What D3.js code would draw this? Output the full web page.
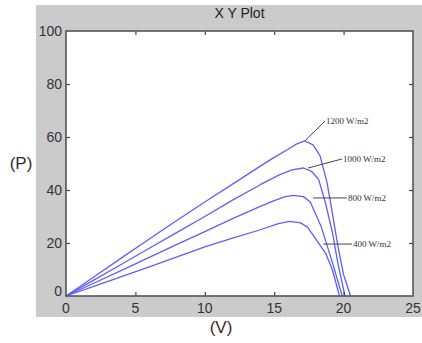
<html>
  <head>
    <meta charset="utf-8">
    <title>X Y Plot</title>
    <style>
      body { margin: 0; background: #fff; }
      svg { display: block; }
      .tick-label { font: 14px "Liberation Sans", Arial, sans-serif; fill: #333; }
      .title { font: 14px "Liberation Sans", Arial, sans-serif; fill: #222; text-anchor: middle; }
      .axis-name { font: 17px "Liberation Sans", Arial, sans-serif; fill: #3a2a2a; }
      .curve-label { font: 9px "Liberation Serif", serif; fill: #333; }
    </style>
  </head>
  <body>
    <svg id="chart" width="422" height="343"></svg>
    <script src="https://cdn.jsdelivr.net/npm/d3@7"></script>
    <script>
// P-V curves: voltage (V) and power (P) for each irradiance
var v1200 = [0, 2, 4, 6, 8, 10, 12, 13, 14, 15, 16, 16.6, 17.2, 17.8, 18.3, 18.8, 19.2, 19.6, 20.0, 20.5];
var p1200 = [0, 7.2, 14.4, 21.5, 28.6, 35.5, 42.2, 45.6, 49, 52.3, 55.4, 57.3, 58.5, 57, 53, 43, 31, 18.5, 8, 0];

var v1000 = [0, 2, 4, 6, 8, 10, 12, 14, 15.4, 16.3, 17.1, 17.7, 18.2, 18.7, 19.2, 19.6, 20.1];
var p1000 = [0, 6, 12, 18, 24, 30, 36.2, 42, 45.8, 47.6, 48.3, 47, 44, 35, 23.8, 12, 0];

var v800 = [0, 2, 4, 6, 8, 10, 12, 14, 15, 15.8, 16.4, 17.1, 17.6, 18.4, 19.2, 19.9];
var p800 = [0, 4.8, 9.7, 14.6, 19.5, 24.3, 29.2, 33.8, 36, 37.5, 38, 37.5, 35.5, 26, 12.5, 0];

var v400 = [0, 2, 4, 6, 8, 10, 12, 14, 15.3, 16.1, 16.9, 17.4, 18.7, 19.2, 19.7];
var p400 = [0, 3.6, 7.3, 11, 14.8, 18.5, 21.8, 25, 27.3, 28.2, 27.6, 26, 16.2, 9.8, 0];

// labels: text, point on the curve, where the text sits (data units)
var labelNames = ["1200 W/m2", "1000 W/m2", "800 W/m2", "400 W/m2"];
var labelAnchorV = [17.2, 17.44, 17.8, 18.52];
var labelAnchorP = [58.5, 48.3, 37.0, 19.6];
var labelTextV = [18.66, 19.88, 20.24, 20.6];
var labelTextP = [66.0, 51.7, 37.0, 19.6];

var xTicks = [0, 5, 10, 15, 20, 25];
var yTicks = [0, 20, 40, 60, 80, 100];

var svg = d3.select("#chart");

// grey figure panel
svg.append("rect")
    .attr("x", 36).attr("y", 5)
    .attr("width", 386).attr("height", 312)
    .attr("fill", "#cbcbcb");

var x = d3.scaleLinear().domain([0, 25]).range([66, 413]);
var y = d3.scaleLinear().domain([0, 100]).range([296, 31]);

svg.append("rect")
    .attr("x", x(0)).attr("y", y(100))
    .attr("width", x(25) - x(0)).attr("height", y(0) - y(100))
    .attr("fill", "#fff");

var curves = [
  {v: v1200, p: p1200},
  {v: v1000, p: p1000},
  {v: v800, p: p800},
  {v: v400, p: p400}
];

var line = d3.line()
    .x(d => x(d[0]))
    .y(d => y(d[1]));

svg.append("g").selectAll("path")
  .data(curves)
  .enter().append("path")
    .attr("d", c => line(c.v.map((v, i) => [v, c.p[i]])))
    .attr("fill", "none")
    .attr("stroke", "#5f5ff7")
    .attr("stroke-width", 1.3)
    .attr("stroke-linejoin", "round");

// label leader lines + text
var labels = labelNames.map((n, i) => ({
  name: n, av: labelAnchorV[i], ap: labelAnchorP[i], tv: labelTextV[i], tp: labelTextP[i]
}));

var lg = svg.append("g");
lg.selectAll("line")
  .data(labels)
  .enter().append("line")
    .attr("x1", d => x(d.av)).attr("y1", d => y(d.ap))
    .attr("x2", d => x(d.tv)).attr("y2", d => y(d.tp))
    .attr("stroke", "#444")
    .attr("stroke-width", 1);
lg.selectAll("text")
  .data(labels)
  .enter().append("text")
    .attr("class", "curve-label")
    .attr("x", d => x(d.tv) + 1).attr("y", d => y(d.tp))
    .attr("dy", "0.35em")
    .text(d => d.name);

// axes: ticks point inwards on all four sides
var tickLen = 4;
var axes = svg.append("g");
axes.append("g")
    .attr("transform", "translate(0," + y(0) + ")")
    .call(d3.axisTop(x).tickValues(xTicks.slice(1, -1)).tickSize(tickLen).tickFormat(""));
axes.append("g")
    .attr("transform", "translate(0," + y(100) + ")")
    .call(d3.axisBottom(x).tickValues(xTicks.slice(1, -1)).tickSize(tickLen).tickFormat(""));
axes.append("g")
    .attr("transform", "translate(" + x(0) + ",0)")
    .call(d3.axisRight(y).tickValues(yTicks.slice(1, -1)).tickSize(tickLen).tickFormat(""));
axes.append("g")
    .attr("transform", "translate(" + x(25) + ",0)")
    .call(d3.axisLeft(y).tickValues(yTicks.slice(1, -1)).tickSize(tickLen).tickFormat(""));
axes.selectAll(".domain").remove();
axes.selectAll("line").attr("stroke", "#444").attr("stroke-width", 1.2);

svg.append("rect")
    .attr("x", x(0)).attr("y", y(100))
    .attr("width", x(25) - x(0)).attr("height", y(0) - y(100))
    .attr("fill", "none")
    .attr("stroke", "#555")
    .attr("stroke-width", 1.6);

// tick labels
svg.append("g").selectAll("text")
  .data(xTicks)
  .enter().append("text")
    .attr("class", "tick-label")
    .attr("x", d => x(d))
    .attr("y", y(0) + 17)
    .attr("text-anchor", "middle")
    .text(d => d);

svg.append("g").selectAll("text")
  .data(yTicks)
  .enter().append("text")
    .attr("class", "tick-label")
    .attr("x", x(0) - 4)
    .attr("y", d => y(d) + (d === 0 ? 0 : 5))
    .attr("text-anchor", "end")
    .text(d => d);

svg.append("text")
    .attr("class", "title")
    .attr("x", (x(0) + x(25)) / 2)
    .attr("y", 18)
    .text("X Y Plot");

svg.append("text")
    .attr("class", "axis-name")
    .attr("x", 21).attr("y", 169)
    .attr("text-anchor", "middle")
    .text("(P)");

svg.append("text")
    .attr("class", "axis-name")
    .attr("x", 221).attr("y", 333)
    .attr("text-anchor", "middle")
    .text("(V)");
    </script>
  </body>
</html>
